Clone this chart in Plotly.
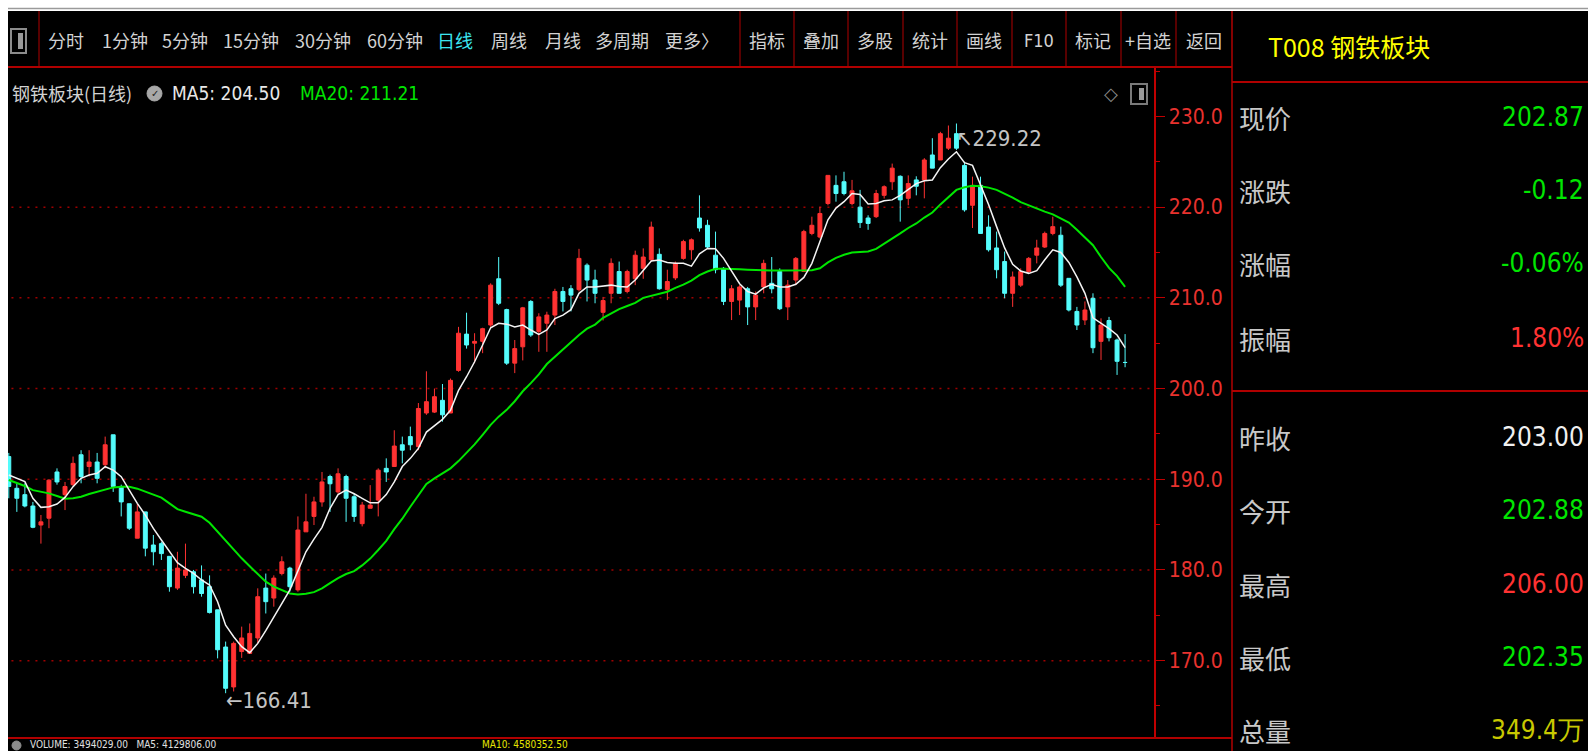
import plotly.graph_objects as go

# ---------------- data ----------------
opens = [192.5, 189.0, 188.3, 187.05, 184.95, 185.7, 190.8, 188.3, 189.4, 192.7,
         191.4, 191.9, 191.6, 194.9, 189.2, 187.3, 183.5, 186.4, 182.75, 182.9,
         181.5, 178.0, 179.4, 179.8, 178.9, 178.15, 175.6, 171.5, 167.1, 171.0,
         170.8, 172.5, 178.0, 176.9, 179.6, 180.2, 177.8, 184.2, 185.9, 187.5,
         190.3, 188.6, 190.3, 188.07, 185.1, 186.8, 187.7, 191.2, 191.4, 193.8,
         194.7, 193.6, 197.3, 197.4, 198.7, 197.3, 202.0, 206.0, 205.0, 205.2,
         207.0, 212.1, 208.7, 202.8, 204.6, 209.6, 206.3, 207.2, 208.1, 210.7,
         211.0, 210.9, 213.6, 211.96, 208.4, 210.5, 212.9, 210.7, 212.1, 213.25,
         214.2, 214.8, 210.9, 212.2, 214.35, 215.3, 218.8, 218.0, 214.7, 213.25,
         209.6, 209.75, 211.0, 209.0, 211.2, 211.6, 212.9, 209.0, 211.96, 212.9,
         217.1, 216.7, 220.4, 222.4, 222.8, 220.4, 220.0, 218.8, 218.95, 221.3,
         222.8, 223.4, 220.97, 223.0, 223.0, 225.75, 225.2, 226.5, 228.1, 224.6,
         220.2, 222.4, 217.8, 215.5, 214.0, 210.5, 211.4, 212.9, 214.7, 215.6,
         217.1, 216.9, 212.15, 208.5, 207.56, 209.95, 205.2, 207.5, 205.35, 202.88]

highs = [192.9, 189.55, 189.55, 187.5, 186.06, 190.0, 191.2, 189.7, 192.5, 193.2,
         193.2, 192.9, 194.7, 194.9, 189.4, 187.3, 187.3, 186.4, 183.85, 183.1,
         181.5, 182.0, 182.9, 180.0, 180.5, 179.4, 175.6, 172.1, 172.1, 173.75,
         174.1, 177.97, 179.6, 179.4, 181.5, 180.35, 185.9, 188.4, 188.07, 190.8,
         190.5, 191.2, 190.5, 188.4, 187.5, 189.35, 191.2, 192.3, 195.4, 194.7,
         195.8, 198.4, 201.9, 200.0, 200.5, 201.1, 206.8, 208.36, 206.1, 206.7,
         211.6, 214.5, 208.8, 205.35, 209.0, 209.75, 208.3, 208.47, 211.0, 211.2,
         211.4, 215.4, 213.8, 213.1, 210.1, 214.35, 214.0, 213.1, 215.2, 215.45,
         218.4, 215.45, 213.1, 214.0, 216.4, 216.55, 221.3, 218.6, 217.3, 213.4,
         211.4, 211.4, 211.2, 210.7, 214.2, 214.5, 213.25, 211.96, 214.5, 217.5,
         218.95, 220.05, 223.5, 223.5, 223.9, 223.0, 221.9, 219.1, 221.9, 222.4,
         224.8, 223.5, 223.5, 223.4, 225.4, 227.6, 228.3, 229.0, 229.22, 225.0,
         223.36, 223.36, 219.1, 217.3, 215.1, 212.9, 213.25, 214.5, 216.4, 217.3,
         218.95, 217.85, 212.15, 209.0, 209.6, 210.5, 207.74, 207.9, 205.5, 206.0]

lows = [187.9, 186.4, 186.9, 184.6, 182.9, 184.6, 189.4, 186.6, 189.2, 189.55,
        190.3, 189.55, 191.2, 188.6, 185.9, 184.4, 183.5, 181.5, 180.5, 181.1,
        177.6, 177.8, 179.1, 177.4, 177.05, 175.2, 170.25, 166.41, 166.6, 170.3,
        170.8, 171.9, 175.2, 175.95, 179.4, 177.6, 177.6, 184.2, 184.95, 186.97,
        186.4, 188.4, 185.3, 185.3, 184.8, 186.8, 185.9, 189.7, 191.4, 191.75,
        193.2, 193.2, 197.1, 197.3, 196.35, 197.3, 201.85, 204.4, 202.8, 203.9,
        206.8, 209.2, 202.6, 201.7, 203.1, 205.7, 204.05, 204.05, 207.0, 208.5,
        208.5, 210.7, 209.6, 209.4, 207.5, 209.4, 210.5, 210.5, 211.4, 212.1,
        214.0, 210.9, 209.75, 211.96, 214.2, 214.2, 217.3, 215.45, 212.7, 209.2,
        207.55, 208.1, 207.0, 207.55, 210.5, 210.5, 208.65, 207.55, 211.4, 212.9,
        216.9, 216.55, 220.2, 220.6, 221.3, 220.2, 217.7, 217.5, 218.8, 220.95,
        221.9, 218.4, 220.2, 221.3, 220.97, 224.3, 225.2, 226.3, 226.3, 219.5,
        217.7, 217.1, 215.1, 212.15, 209.95, 209.0, 211.2, 212.7, 213.8, 215.5,
        216.9, 211.2, 208.5, 206.45, 207.0, 203.9, 203.15, 205.2, 201.5, 202.35]

closes = [189.2, 187.9, 187.05, 184.7, 185.3, 189.9, 189.7, 189.2, 191.75, 190.3,
          191.9, 190.1, 193.8, 189.2, 187.5, 184.6, 186.4, 182.4, 182.0, 181.8,
          178.15, 180.2, 180.0, 178.15, 177.4, 175.3, 171.2, 166.95, 171.9, 172.5,
          173.0, 177.05, 176.5, 179.1, 180.9, 178.15, 184.4, 185.3, 187.5, 189.7,
          189.5, 190.6, 187.9, 185.9, 187.15, 187.15, 191.0, 190.8, 193.66, 193.2,
          193.8, 197.8, 198.55, 199.1, 197.1, 200.9, 206.1, 204.8, 205.2, 206.6,
          211.4, 209.4, 202.8, 204.4, 208.9, 205.9, 207.9, 208.1, 210.7, 209.6,
          210.3, 214.35, 211.96, 210.5, 209.7, 213.8, 210.5, 212.9, 214.7, 214.5,
          217.8, 211.0, 211.8, 213.8, 216.2, 216.4, 217.7, 215.6, 213.1, 209.6,
          211.0, 211.2, 209.0, 210.3, 213.8, 211.0, 208.8, 211.4, 214.35, 217.3,
          218.0, 219.3, 223.5, 221.5, 221.5, 221.8, 218.3, 218.2, 221.5, 222.25,
          224.3, 220.8, 222.6, 222.3, 225.2, 224.3, 228.1, 227.6, 226.5, 219.7,
          222.4, 217.1, 215.3, 213.1, 210.5, 212.3, 212.9, 214.35, 215.5, 217.1,
          217.85, 211.4, 208.66, 207.0, 208.66, 204.5, 207.0, 205.6, 203.0, 202.87]

ma5 = [190.46, 190.1, 189.73, 187.9, 186.9, 186.97, 187.27, 188.0, 189.18, 190.1,
       190.46, 190.65, 191.38, 191.0, 190.28, 188.81, 187.34, 186.05, 184.58, 183.3,
       182.0, 180.8, 180.17, 179.62, 178.89, 178.34, 176.5, 173.9, 172.64, 171.54,
       170.88, 171.9, 173.3, 174.85, 176.39, 177.8, 179.9, 182.0, 183.4, 184.7,
       186.8, 188.3, 188.8, 188.4, 187.9, 187.4, 187.4, 188.3, 189.7, 191.4,
       192.3, 193.4, 195.2, 195.9, 196.6, 197.6, 199.8, 201.3, 202.95, 204.8,
       206.7, 207.2, 207.1, 206.8, 207.0, 206.45, 205.97, 206.45, 207.7, 208.1,
       208.7, 210.5, 211.2, 211.2, 211.3, 211.4, 211.25, 211.2, 211.96, 213.06,
       214.07, 214.17, 213.9, 213.8, 213.8, 213.5, 214.85, 215.45, 215.4, 214.35,
       212.9, 211.55, 210.7, 210.4, 211.1, 211.5, 211.2, 211.2, 211.5, 212.25,
       213.8, 216.2, 218.6, 219.9, 220.6, 221.5, 221.4, 220.35, 220.4, 220.7,
       220.8, 221.3, 222.0, 222.6, 222.9, 223.0, 224.35, 225.3, 226.1, 224.9,
       224.6, 222.4, 220.3, 217.85, 215.5, 213.7, 212.96, 212.7, 213.0, 214.2,
       215.3, 215.0, 213.9, 212.3, 210.5, 207.8, 207.2, 206.6, 205.9, 204.5]

ma20 = [189.91, 189.6, 189.25, 188.8, 188.63, 188.44, 188.15, 187.85, 187.9, 188.07,
        188.37, 188.63, 188.81, 189.1, 189.18, 189.18, 188.96, 188.63, 188.3, 187.97,
        187.34, 186.7, 186.42, 186.16, 185.87, 185.2, 184.2, 183.3, 182.27, 181.28,
        180.4, 179.55, 178.7, 178.15, 177.8, 177.4, 177.28, 177.37, 177.55, 177.97,
        178.55, 179.1, 179.55, 179.87, 180.5, 181.25, 182.2, 183.2, 184.5, 185.65,
        186.97, 188.26, 189.47, 190.1, 190.65, 191.2, 192.0, 192.9, 193.84, 194.9,
        196.0, 196.9, 197.65, 198.6, 199.7, 200.6, 201.55, 202.7, 203.5, 204.35,
        205.15, 205.9, 206.6, 207.05, 207.8, 208.3, 208.75, 209.1, 209.45, 210.0,
        210.2, 210.4, 210.67, 211.1, 211.45, 211.9, 212.5, 212.9, 213.2, 213.2,
        213.2, 213.15, 213.1, 213.05, 213.0, 213.0, 213.0, 213.0, 213.0, 213.0,
        213.05, 213.25, 213.9, 214.4, 214.75, 215.0, 215.05, 215.1, 215.4, 215.95,
        216.5, 217.1, 217.7, 218.2, 218.85, 219.4, 220.3, 221.1, 221.9, 222.2,
        222.35, 222.3, 222.15, 221.9, 221.5, 221.05, 220.55, 220.2, 219.8, 219.5,
        219.2, 218.75, 218.3, 217.5, 216.7, 215.8, 214.5, 213.3, 212.4, 211.21]

y_ticks = [170, 180, 190, 200, 210, 220, 230]
y_tick_labels = ["170.0", "180.0", "190.0", "200.0", "210.0", "220.0", "230.0"]
minor_ticks = [165, 175, 185, 195, 205, 215, 225, 235]
grid_levels = [170, 180, 190, 200, 210, 220]

toolbar_left = ["分时", "1分钟", "5分钟", "15分钟", "30分钟", "60分钟", "日线", "周线", "月线", "多周期", "更多〉"]
toolbar_right = ["指标", "叠加", "多股", "统计", "画线", "F10", "标记", "+自选", "返回"]
chart_title = "钢铁板块(日线)"
ma5_label = "MA5: 204.50"
ma20_label = "MA20: 211.21"
low_mark = 166.41
high_mark = 229.22
panel_title = "T008 钢铁板块"
panel_labels = ["现价", "涨跌", "涨幅", "振幅", "昨收", "今开", "最高", "最低", "总量"]
panel_values = ["202.87", "-0.12", "-0.06%", "1.80%", "203.00", "202.88", "206.00", "202.35", "349.4万"]
volume_line = "VOLUME: 3494029.00   MA5: 4129806.00"
volume_line2 = "MA10: 4580352.50"

# ---------------- styling / layout ----------------
W, H = 1588, 751
L, R, T, B = 8, 1154, 67, 738

UP = "#FF3232"
DOWN = "#54FCFC"
GREEN = "#00E600"
RED_LINE = "#B00000"
GRID = "#A00000"
AXIS_TXT = "#E8322E"
GRAY_TXT = "#D2D2D2"
NARROW = "Liberation Sans Narrow, Arial Narrow, DejaVu Sans Condensed, Roboto Condensed, Liberation Sans, sans-serif"
CJK = "Noto Sans CJK SC, Noto Sans, sans-serif"


def px(x):
    return (x - L) / (R - L)


def py(y):
    return (B - y) / (B - T)


idx = list(range(len(opens)))

fig = go.Figure()
fig.add_trace(go.Candlestick(
    x=idx, open=opens, high=highs, low=lows, close=closes,
    increasing=dict(line=dict(color=UP, width=1), fillcolor=UP),
    decreasing=dict(line=dict(color=DOWN, width=1), fillcolor=DOWN),
    whiskerwidth=0, hoverinfo="skip", showlegend=False))
fig.add_trace(go.Scatter(x=idx, y=ma20, mode="lines", line=dict(color=GREEN, width=2),
                         hoverinfo="skip", showlegend=False))
fig.add_trace(go.Scatter(x=idx, y=ma5, mode="lines", line=dict(color="#F4F4F4", width=1.5),
                         hoverinfo="skip", showlegend=False))

shapes = []


def rect(x0, y0, x1, y1, fill=None, color=None, width=0):
    shapes.append(dict(type="rect", xref="paper", yref="paper",
                       x0=px(x0), x1=px(x1), y0=py(y0), y1=py(y1),
                       fillcolor=fill if fill else "rgba(0,0,0,0)",
                       line=dict(color=color if color else "rgba(0,0,0,0)", width=width)))


def line(x0, y0, x1, y1, color=RED_LINE, width=1):
    shapes.append(dict(type="line", xref="paper", yref="paper",
                       x0=px(x0), x1=px(x1), y0=py(y0), y1=py(y1),
                       line=dict(color=color, width=width)))


# dotted grid at price levels
for v in grid_levels:
    shapes.append(dict(type="line", xref="paper", yref="y", x0=0.003, x1=1, y0=v, y1=v,
                       line=dict(color=GRID, width=1.5, dash="2px,6px"), layer="below"))

# window chrome
rect(0, 0, W, 11, fill="#FFFFFF")
line(0, 8.5, W, 8.5, color="#9A9A9A", width=1.5)
rect(0, 0, 8, H, fill="#FFFFFF")
line(8, 67, 1232, 67, width=2)
line(39, 11, 39, 67)
for sx in [740, 794, 848, 903, 957, 1012, 1066, 1121, 1176]:
    line(sx, 11, sx, 67)
line(1232, 11, 1232, H, width=1.5)
line(1232, 82, W, 82, width=2)
line(1232, 391, W, 391, width=2)
line(8, 738, 1232, 738, width=2)

# toolbar icon
rect(11, 29, 26, 53, color="#8C8C8C", width=2)
rect(18, 33, 23, 49, fill="#9A9A9A")
# chart corner icons
rect(1131, 84, 1147, 104, color="#7A7A7A", width=2)
rect(1139, 88, 1144, 100, fill="#9A9A9A")
# title dropdown circle
shapes.append(dict(type="circle", xref="paper", yref="paper",
                   x0=px(147), x1=px(162), y0=py(86), y1=py(101),
                   fillcolor="#A8A8A8", line=dict(color="#A8A8A8", width=1)))
# volume row circle
shapes.append(dict(type="circle", xref="paper", yref="paper",
                   x0=px(12), x1=px(21), y0=py(741), y1=py(750),
                   fillcolor="#8C8C8C", line=dict(color="#8C8C8C", width=1)))

annotations = []


def txt(x, y, text, color=GRAY_TXT, size=18, family=CJK, xanchor="center", yanchor="middle"):
    annotations.append(dict(x=px(x), y=py(y), xref="paper", yref="paper", text=text,
                            showarrow=False, font=dict(color=color, size=size, family=family),
                            xanchor=xanchor, yanchor=yanchor))


left_centers = [66, 125, 185, 251, 323, 395, 455, 509, 563, 622, 692]
for label, cx in zip(toolbar_left, left_centers):
    txt(cx, 40, label, color="#3CE6F0" if label == "日线" else GRAY_TXT, size=18)
right_centers = [767, 821, 875, 930, 984, 1039, 1093, 1148, 1204]
for label, cx in zip(toolbar_right, right_centers):
    txt(cx, 40, label, size=18, family=NARROW if label == "F10" else CJK)

txt(10, 93, chart_title, color=GRAY_TXT, size=18, xanchor="left")
txt(154.5, 93.5, "✓", color="#202020", size=10, family="DejaVu Sans")
txt(170, 93, ma5_label, color="#E8E8E8", size=19, family=NARROW, xanchor="left")
txt(298, 93, ma20_label, color=GREEN, size=19, family=NARROW, xanchor="left")
txt(1111, 93, "◇", color="#8C8C8C", size=18, family="DejaVu Sans")

# right info panel
txt(1266, 46, panel_title, color="#FFFF00", size=25, xanchor="left")
row_y = [117, 190, 263, 338, 437, 510, 584, 657, 730]
value_colors = [GREEN, GREEN, GREEN, UP, "#F0F0F0", GREEN, UP, GREEN, "#C8C800"]
for lab, val, yy, col in zip(panel_labels, panel_values, row_y, value_colors):
    txt(1237, yy, lab, color="#C8C8C8", size=26, xanchor="left")
    txt(1586, yy, val, color=col, size=26, family=NARROW, xanchor="right")

# partially visible volume row at the bottom
txt(28, 745, volume_line, color="#E0E0E0", size=10, family=NARROW, xanchor="left")
txt(480, 745, volume_line2, color="#E6E600", size=10, family=NARROW, xanchor="left")

# extreme price marks (data coordinates)
annotations.append(dict(x=idx[highs.index(high_mark)], y=high_mark, xref="x", yref="y",
                        text="↖" + f"{high_mark:.2f}", showarrow=False, xanchor="left", yanchor="top",
                        font=dict(color="#C4C4C4", size=22, family=NARROW), xshift=-2))
annotations.append(dict(x=idx[lows.index(low_mark)], y=low_mark, xref="x", yref="y",
                        text="←" + f"{low_mark:.2f}", showarrow=False, xanchor="left", yanchor="middle",
                        font=dict(color="#C4C4C4", size=22, family=NARROW), yshift=-7, xshift=-2))

fig.update_layout(
    width=W, height=H, autosize=False,
    margin=dict(l=L, r=W - R, t=T, b=H - B, pad=0),
    paper_bgcolor="#000000", plot_bgcolor="#000000",
    showlegend=False, hovermode=False,
    shapes=shapes, annotations=annotations,
    xaxis=dict(range=[-0.1, 142.6], visible=False, rangeslider=dict(visible=False),
               showgrid=False, zeroline=False, fixedrange=True),
    yaxis=dict(range=[161.47, 235.45], side="right", showgrid=False, zeroline=False,
               tickmode="array", tickvals=y_ticks, ticktext=y_tick_labels,
               ticks="outside", ticklen=9, tickwidth=1, tickcolor="#C00000",
               showline=True, linecolor="#C00000", linewidth=1.5,
               tickfont=dict(color=AXIS_TXT, size=21, family=NARROW),
               minor=dict(tickvals=minor_ticks, ticks="outside", ticklen=4,
                          tickcolor="#C00000", showgrid=False),
               fixedrange=True),
)

fig.write_html("out.html", include_plotlyjs=True, full_html=True,
               config={"displayModeBar": False, "staticPlot": True},
               post_script="document.body.style.margin='0px';document.body.style.overflow='hidden';")
